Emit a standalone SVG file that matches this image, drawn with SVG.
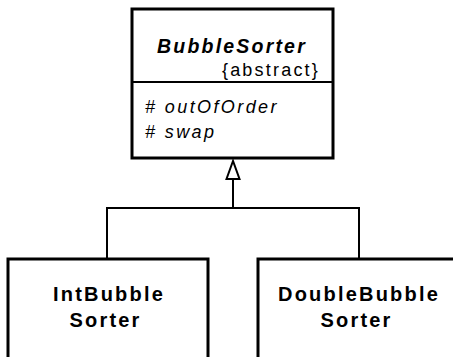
<svg xmlns="http://www.w3.org/2000/svg" width="453" height="357" viewBox="0 0 453 357">
<style>
.box{fill:#fff;stroke:#000;stroke-width:3}
.ln{fill:none;stroke:#000;stroke-width:2}
text{font-family:"Liberation Sans",Arial,sans-serif;fill:#000}
.title{font-size:19.5px;font-weight:bold;font-style:italic;letter-spacing:2.2px}
.tag{font-size:18px;letter-spacing:2.2px}
.op{font-size:18px;font-style:italic;letter-spacing:2.4px}
.name{font-size:20px;font-weight:bold;letter-spacing:2.2px}
</style>
<rect width="453" height="357" fill="#fff"/>
<g id="connectors">
<polyline class="ln" points="107,259 107,208 359,208 359,259"/>
<line class="ln" x1="233" y1="208" x2="233" y2="179"/>
<polygon points="233,161 226.5,179 239.5,179" fill="#fff" stroke="#000" stroke-width="2"/>
</g>
<g id="BubbleSorter">
<rect class="box" x="132" y="9" width="201" height="149"/>
<line class="ln" x1="132" y1="82" x2="333" y2="82" stroke-width="3"/>
<text class="title" x="232" y="53" text-anchor="middle">BubbleSorter</text>
<text class="tag" x="320" y="76" text-anchor="end">{abstract}</text>
<text class="op" x="145" y="113"># outOfOrder</text>
<text class="op" x="145" y="137.5"># swap</text>
</g>
<g id="IntBubbleSorter">
<rect class="box" x="8" y="259" width="200" height="110"/>
<text class="name" x="109" y="301" text-anchor="middle">IntBubble</text>
<text class="name" x="105.5" y="327" text-anchor="middle">Sorter</text>
</g>
<g id="DoubleBubbleSorter">
<rect class="box" x="258" y="259" width="210" height="110"/>
<text class="name" x="359" y="301" text-anchor="middle">DoubleBubble</text>
<text class="name" x="356.5" y="327" text-anchor="middle">Sorter</text>
</g>
</svg>
